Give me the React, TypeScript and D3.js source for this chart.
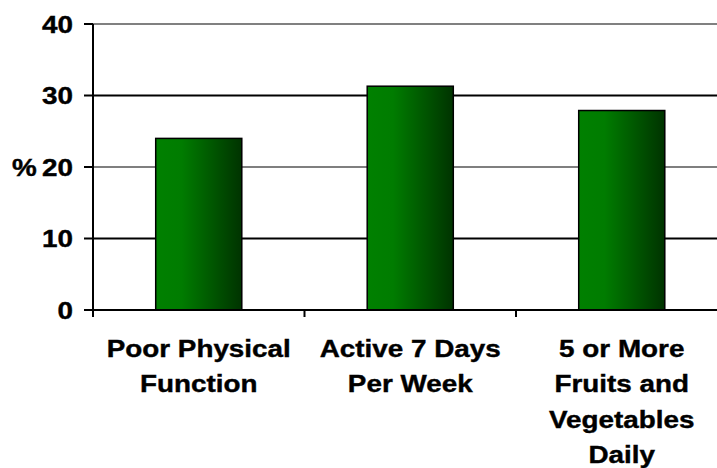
import React from "react";
import * as d3 from "d3";

const categories = ["Poor Physical Function", "Active 7 Days Per Week", "5 or More Fruits and Vegetables Daily"];
const labelLines = [["Poor Physical", "Function"], ["Active 7 Days", "Per Week"], ["5 or More", "Fruits and", "Vegetables", "Daily"]];
const values = [24, 31.3, 27.9];
const yTicks = [0, 10, 20, 30, 40];

const W = 717;
const H = 468;
const FONT = "'Liberation Sans', Arial, Helvetica, sans-serif";
const SX = 1.16;

function stretch(cx: number) {
  return `translate(${cx},0) scale(${SX},1) translate(${-cx},0)`;
}

export default function App() {
  const x = d3.scaleBand<string>().domain(categories).range([93, 727.5]).paddingInner(0.593).paddingOuter(0.2965);
  const y = d3.scaleLinear().domain([0, 40]).range([310, 24]);
  const step = x.step();
  const axisLeft = 93;
  const y0 = y(0);
  const textProps = { fontSize: 24, fontWeight: "bold", fill: "#000", stroke: "#000", strokeWidth: 0.4 };
  return (
    <svg width={W} height={H} style={{ position: "absolute", left: 0, top: 0 }} fontFamily={FONT}>
      <defs>
        <linearGradient id="barGrad" x1="0" x2="1" y1="0" y2="0">
          <stop offset="0" stopColor="#008000" />
          <stop offset="0.3" stopColor="#007c00" />
          <stop offset="1" stopColor="#003300" />
        </linearGradient>
      </defs>
      <rect width={W} height={H} fill="#fff" />
      {yTicks.filter((t) => t > 0).map((t) => (
        <line key={t} x1={axisLeft} x2={W} y1={y(t)} y2={y(t)} stroke={t === 40 ? "#808080" : "#000"} strokeWidth={t === 20 ? 1.2 : 2} />
      ))}
      {categories.map((c, i) => (
        <rect key={c} x={x(c)} y={y(values[i])} width={x.bandwidth()} height={y0 - y(values[i])} fill="url(#barGrad)" stroke="#000" strokeWidth={1.5} />
      ))}
      <line x1={axisLeft} x2={axisLeft} y1={y(40)} y2={y0 + 7} stroke="#000" strokeWidth={2} />
      <line x1={axisLeft} x2={W} y1={y0} y2={y0} stroke="#000" strokeWidth={2} />
      {yTicks.map((t) => (
        <g key={t}>
          <line x1={axisLeft - 9} x2={axisLeft} y1={y(t)} y2={y(t)} stroke="#000" strokeWidth={2} />
          <text x={73} y={y(t)} dy="0.36em" textAnchor="end" transform={stretch(73)} {...textProps}>{t}</text>
        </g>
      ))}
      <text x={12} y={y(20)} dy="0.36em" transform={stretch(12)} {...textProps}>%</text>
      {categories.map((c, i) => {
        const tx = axisLeft + step * i;
        return <line key={"t" + c} x1={tx} x2={tx} y1={y0} y2={y0 + 7} stroke="#000" strokeWidth={2} />;
      })}
      {categories.map((c, i) => {
        const cx = (x(c) as number) + x.bandwidth() / 2;
        return (
          <text key={"l" + c} x={cx} textAnchor="middle" transform={stretch(cx)} {...textProps}>
            {labelLines[i].map((ln, j) => (
              <tspan key={j} x={cx} y={357 + j * 35.5}>{ln}</tspan>
            ))}
          </text>
        );
      })}
    </svg>
  );
}
